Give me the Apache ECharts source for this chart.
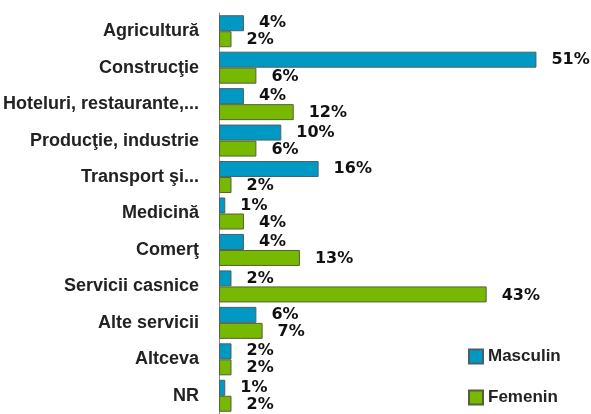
<!DOCTYPE html>
<html>
<head>
<meta charset="utf-8">
<script src="https://cdn.jsdelivr.net/npm/echarts@6/dist/echarts.min.js"></script>
<style>
  html, body { margin: 0; padding: 0; background: #fff; }
  #chart { width: 591px; height: 414px; }
</style>
</head>
<body>
<div id="chart"></div>
<script>
// categorii (de sus in jos)
const categories = [
    'Agricultură', 'Construcţie', 'Hoteluri, restaurante,...', 'Producţie, industrie',
    'Transport şi...', 'Medicină', 'Comerţ', 'Servicii casnice', 'Alte servicii', 'Altceva', 'NR'
];
const masculin = [4, 51, 4, 10, 16, 1, 4, 2, 6, 2, 1];
const femenin = [2, 6, 12, 6, 2, 4, 13, 43, 7, 2, 2];

const chart = echarts.init(document.getElementById('chart'));

const valueLabel = {
    show: true,
    position: 'right',
    distance: 15,
    formatter: '{c}%',
    color: '#111',
    fontFamily: 'DejaVu Sans',
    fontWeight: 'bold',
    fontSize: 16
};

chart.setOption({
    animation: false,
    grid: { left: 218, top: 13, width: 362, height: 404 },
    legend: {
        orient: 'vertical',
        left: 468, top: 348,
        padding: 0,
        height: 68,
        icon: 'rect',
        itemWidth: 14, itemHeight: 14, itemGap: 24,
        textStyle: { fontFamily: 'Liberation Sans', fontWeight: 'bold', fontSize: 17, color: '#222' },
        data: ['Masculin', 'Femenin']
    },
    xAxis: {
        type: 'value', min: 0, max: 58,
        show: false
    },
    yAxis: {
        type: 'category',
        inverse: true,
        data: categories,
        axisLine: { lineStyle: { color: '#888', width: 1 } },
        axisTick: { length: 4, lineStyle: { color: '#888' } },
        axisLabel: {
            margin: 20,
            color: '#222',
            fontFamily: 'Liberation Sans',
            fontWeight: 'bold',
            fontSize: 18
        }
    },
    series: [
        {
            name: 'Masculin', type: 'bar', data: masculin,
            barWidth: 16, barGap: '0%',
            itemStyle: { color: '#0099C4', borderColor: '#4d5f66', borderWidth: 1 },
            label: Object.assign({}, valueLabel, { offset: [0, 0] })
        },
        {
            name: 'Femenin', type: 'bar', data: femenin,
            barWidth: 16,
            itemStyle: { color: '#77B800', borderColor: '#55603a', borderWidth: 1 },
            label: Object.assign({}, valueLabel, { offset: [0, 1] })
        }
    ]
});
</script>
</body>
</html>
